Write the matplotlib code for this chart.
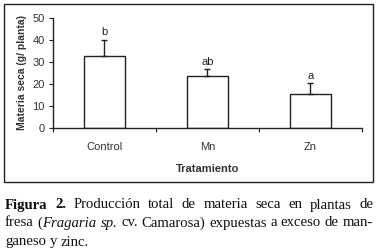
import matplotlib
matplotlib.use("Agg")
import matplotlib.pyplot as plt
from matplotlib.patches import Rectangle

categories = ["Control", "Mn", "Zn"]
values = [32.7, 23.5, 15.5]
errors = [7.5, 3.3, 5.0]
letters = ["b", "ab", "a"]
yticks = [0, 10, 20, 30, 40, 50]

W, H = 379, 252
fig = plt.figure(figsize=(W / 100, H / 100), dpi=100)
fig.patch.set_facecolor("white")

# frame around chart
fig.patches.append(Rectangle((4 / W, 1 - 182 / H), 369 / W, 178 / H,
                             transform=fig.transFigure, fill=False,
                             edgecolor="#222222", linewidth=1.0))

ax = fig.add_axes([53 / W, 1 - 128 / H, 309 / W, 110 / H])
x = list(range(len(categories)))
ax.bar(x, values, width=0.4, color="white", edgecolor="#222222", linewidth=1.0, zorder=2)
ax.errorbar(x, values, yerr=[[0] * len(errors), errors], fmt="none",
            ecolor="#222222", elinewidth=1.0, capsize=2.2, capthick=1.0, zorder=3)
for xi, v, e, l in zip(x, values, errors, letters):
    ax.text(xi, v + e + 1.0, l, ha="center", va="bottom", fontsize=8,
            family="Liberation Sans", color="#222222")

ax.set_xlim(-0.5, len(categories) - 0.5)
ax.set_ylim(0, 50)
ax.set_yticks(yticks)
ax.set_yticklabels([str(t) for t in yticks], family="Liberation Sans", fontsize=8, color="#333333")
ax.set_xticks([i - 0.5 for i in range(len(categories) + 1)])
ax.set_xticklabels([])
ax.set_xticks(x, minor=True)
ax.set_xticklabels(categories, minor=True, family="Liberation Sans", fontsize=8, color="#333333")
ax.tick_params(axis="x", which="minor", length=0, pad=10)
ax.tick_params(axis="x", which="major", length=3, direction="out", color="#222222")
ax.tick_params(axis="y", length=3, direction="out", color="#222222", pad=3)
for s in ["top", "right"]:
    ax.spines[s].set_visible(False)
for s in ["left", "bottom"]:
    ax.spines[s].set_color("#222222")
    ax.spines[s].set_linewidth(1.0)
ax.set_ylabel("Materia seca (g/ planta)", family="Liberation Sans", fontsize=7.5,
              fontweight="bold", color="#333333", labelpad=4)
ax.set_xlabel("Tratamiento", family="Liberation Sans", fontsize=8,
              fontweight="bold", color="#333333", labelpad=9)

# caption with justification
serif = "Liberation Serif"
cap_size = 10.6
lines = [
    ([[("Figura", "bold", "normal")], [("2.", "bold", "normal")], [("Producción", "normal", "normal")],
      [("total", "normal", "normal")], [("de", "normal", "normal")], [("materia", "normal", "normal")],
      [("seca", "normal", "normal")], [("en", "normal", "normal")], [("plantas", "normal", "normal")],
      [("de", "normal", "normal")]], True, 205),
    ([[("fresa", "normal", "normal")], [("(", "normal", "normal"), ("Fragaria", "normal", "italic")],
      [("sp.", "normal", "italic")], [("cv.", "normal", "normal")], [("Camarosa)", "normal", "normal")],
      [("expuestas", "normal", "normal")], [("a", "normal", "normal")], [("exceso", "normal", "normal")],
      [("de", "normal", "normal")], [("man-", "normal", "normal")]], True, 223),
    ([[("ganeso", "normal", "normal")], [("y", "normal", "normal")], [("zinc.", "normal", "normal")]], False, 242),
]
fig.canvas.draw()
renderer = fig.canvas.get_renderer()
x0, x1 = 5, 373
for words, justify, ypix in lines:
    items = []
    widths = []
    for word in words:
        ws = []
        for txt, wt, st in word:
            t = fig.text(0, 0, txt, family=serif, fontsize=cap_size, fontweight=wt,
                         fontstyle=st, color="#111111", va="center", ha="left")
            bb = t.get_window_extent(renderer)
            ws.append((t, bb.width))
        items.append(ws)
        widths.append(sum(w for _, w in ws))
    total = sum(widths)
    if justify and len(words) > 1:
        gap = (x1 - x0 - total) / (len(words) - 1)
    else:
        sp = fig.text(0, 0, "a b", family=serif, fontsize=cap_size)
        sp2 = fig.text(0, 0, "ab", family=serif, fontsize=cap_size)
        gap = sp.get_window_extent(renderer).width - sp2.get_window_extent(renderer).width
        sp.remove(); sp2.remove()
    cx = x0
    for ws in items:
        for t, w in ws:
            t.set_position((cx / W, 1 - ypix / H))
            cx += w
        cx += gap

fig.savefig("out.png", dpi=100, facecolor="white")
